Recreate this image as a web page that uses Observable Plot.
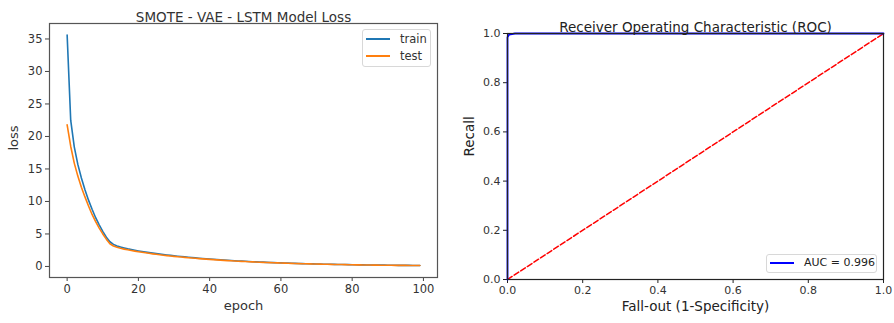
<!DOCTYPE html>
<html>
<head>
<meta charset="utf-8">
<script src="https://cdn.jsdelivr.net/npm/d3@7"></script>
<script src="https://cdn.jsdelivr.net/npm/@observablehq/plot@0.6"></script>
<style>
  html, body { margin: 0; padding: 0; background: #fff; }
  #wrap { position: relative; width: 894px; height: 323px; font-family: "DejaVu Sans", sans-serif; color: #333; }
  .panel { position: absolute; top: 0; }
  .legend { position: absolute; background: #fff; border: 1px solid #d8d8d8; border-radius: 3px; box-sizing: border-box; }
  .litem { position: absolute; display: flex; align-items: center; font-size: 11.5px; }
  .lline { display: inline-block; width: 24px; height: 2px; margin-right: 10px; }
</style>
</head>
<body>
<div id="wrap"></div>
<script>
const trainLoss = [35.6, 22.5, 18.4, 15.7, 13.6, 11.8, 10.2, 8.8, 7.5, 6.4, 5.4, 4.5, 3.8, 3.4, 3.15, 2.98, 2.84, 2.71, 2.6, 2.49, 2.39, 2.3, 2.21, 2.13, 2.05, 1.97, 1.9, 1.83, 1.76, 1.7, 1.64, 1.58, 1.52, 1.47, 1.42, 1.37, 1.32, 1.27, 1.22, 1.18, 1.14, 1.1, 1.06, 1.02, 0.98, 0.95, 0.91, 0.88, 0.85, 0.82, 0.79, 0.76, 0.73, 0.71, 0.68, 0.66, 0.63, 0.61, 0.59, 0.57, 0.55, 0.53, 0.51, 0.49, 0.47, 0.46, 0.44, 0.42, 0.41, 0.39, 0.38, 0.37, 0.35, 0.34, 0.33, 0.32, 0.31, 0.3, 0.29, 0.28, 0.27, 0.26, 0.25, 0.24, 0.23, 0.23, 0.22, 0.21, 0.2, 0.2, 0.19, 0.18, 0.18, 0.17, 0.17, 0.16, 0.16, 0.15, 0.15, 0.14];
const testLoss = [21.8, 18.5, 15.9, 13.9, 12.2, 10.7, 9.3, 8.0, 6.9, 5.9, 5.0, 4.2, 3.5, 3.15, 2.95, 2.8, 2.67, 2.56, 2.46, 2.36, 2.27, 2.18, 2.1, 2.02, 1.94, 1.87, 1.8, 1.73, 1.67, 1.61, 1.55, 1.5, 1.45, 1.4, 1.35, 1.3, 1.25, 1.21, 1.17, 1.13, 1.09, 1.05, 1.01, 0.97, 0.94, 0.9, 0.87, 0.84, 0.81, 0.78, 0.75, 0.73, 0.7, 0.68, 0.65, 0.63, 0.61, 0.59, 0.57, 0.55, 0.53, 0.51, 0.49, 0.47, 0.46, 0.44, 0.42, 0.41, 0.4, 0.38, 0.37, 0.36, 0.34, 0.33, 0.32, 0.31, 0.3, 0.29, 0.28, 0.27, 0.26, 0.25, 0.24, 0.23, 0.22, 0.22, 0.21, 0.2, 0.19, 0.19, 0.18, 0.18, 0.17, 0.17, 0.16, 0.16, 0.15, 0.15, 0.14, 0.14];
const lossXTicks = [0, 20, 40, 60, 80, 100];
const lossYTicks = [0, 5, 10, 15, 20, 25, 30, 35];

const rocFpr = [0, 0, 0.004, 0.02, 1];
const rocTpr = [0, 0.985, 0.995, 1, 1];
const chanceX = [0, 1];
const chanceY = [0, 1];
const rocTicks = [0, 0.2, 0.4, 0.6, 0.8, 1.0];
const aucLabel = "AUC = 0.996";

const epochs = trainLoss.map((_, i) => i);
const lossRows = [
  ...epochs.map(i => ({epoch: i, loss: trainLoss[i], series: "train"})),
  ...epochs.map(i => ({epoch: i, loss: testLoss[i], series: "test"}))
];
const rocRows = rocFpr.map((f, i) => ({fpr: f, tpr: rocTpr[i]}));
const chanceRows = chanceX.map((x, i) => ({x, y: chanceY[i]}));

const FONT = "DejaVu Sans, sans-serif";
const TXT = "#333";
const wrap = document.getElementById("wrap");

const left = Plot.plot({
  width: 450, height: 323,
  marginLeft: 49, marginRight: 13, marginTop: 23, marginBottom: 46,
  style: {fontFamily: FONT, color: TXT, background: "transparent", overflow: "visible"},
  x: {domain: [-4.95, 103.95], ticks: lossXTicks},
  y: {domain: [-1.7, 37.38], ticks: lossYTicks},
  marks: [
    Plot.axisX({ticks: lossXTicks, tickSize: 4, tickPadding: 3, fontSize: 11.5, label: null, stroke: "#444"}),
    Plot.axisY({ticks: lossYTicks, tickSize: 4, tickPadding: 3, fontSize: 11.5, label: null, stroke: "#444"}),
    Plot.line(lossRows.filter(d => d.series === "train"), {x: "epoch", y: "loss", stroke: "#1f77b4", strokeWidth: 1.6}),
    Plot.line(lossRows.filter(d => d.series === "test"), {x: "epoch", y: "loss", stroke: "#ff7f0e", strokeWidth: 1.6}),
    Plot.frame({stroke: "#555", strokeWidth: 1.2}),
    Plot.text(["SMOTE - VAE - LSTM Model Loss"], {frameAnchor: "top", dy: -11, fontSize: 13.5, fill: TXT}),
    Plot.text(["epoch"], {frameAnchor: "bottom", dy: 32, fontSize: 13, fill: TXT}),
    Plot.text(["loss"], {frameAnchor: "left", dx: -36, rotate: -90, fontSize: 13, fill: TXT})
  ]
});
left.classList.add("panel");
left.style.left = "0px";
wrap.appendChild(left);

const right = Plot.plot({
  width: 444, height: 323,
  marginLeft: 57, marginRight: 11, marginTop: 33, marginBottom: 44,
  style: {fontFamily: FONT, color: TXT, background: "transparent", overflow: "visible"},
  x: {domain: [0, 1], ticks: rocTicks, tickFormat: d3.format(".1f")},
  y: {domain: [0, 1], ticks: rocTicks, tickFormat: d3.format(".1f")},
  marks: [
    Plot.axisX({ticks: rocTicks, tickFormat: d3.format(".1f"), tickSize: 4, tickPadding: 3, fontSize: 11, label: null, stroke: "#222"}),
    Plot.axisY({ticks: rocTicks, tickFormat: d3.format(".1f"), tickSize: 4, tickPadding: 3, fontSize: 11, label: null, stroke: "#222"}),
    Plot.line(chanceRows, {x: "x", y: "y", stroke: "#ff0000", strokeWidth: 1.5, strokeDasharray: "5.5,2.4", clip: true}),
    Plot.line(rocRows, {x: "fpr", y: "tpr", stroke: "#0000ff", strokeWidth: 1.8}),
    Plot.frame({stroke: "#222", strokeWidth: 1.2}),
    Plot.text(["Receiver Operating Characteristic (ROC)"], {frameAnchor: "top", dy: -11, fontSize: 13.5, fill: "#222"}),
    Plot.text(["Fall-out (1-Specificity)"], {frameAnchor: "bottom", dy: 31, fontSize: 13.5, fill: "#222"}),
    Plot.text(["Recall"], {frameAnchor: "left", dx: -38, rotate: -90, fontSize: 13.5, fill: "#222"})
  ]
});
right.classList.add("panel");
right.style.left = "450px";
wrap.appendChild(right);

function legend(box, items) {
  const lg = document.createElement("div");
  lg.className = "legend";
  Object.assign(lg.style, {left: box.x + "px", top: box.y + "px", width: box.w + "px", height: box.h + "px"});
  items.forEach(it => {
    const row = document.createElement("div");
    row.className = "litem";
    row.style.left = it.x + "px";
    row.style.top = it.y + "px";
    row.style.fontSize = it.fs + "px";
    row.style.color = it.color;
    const ln = document.createElement("span");
    ln.className = "lline";
    ln.style.background = it.stroke;
    const tx = document.createElement("span");
    tx.textContent = it.label;
    row.appendChild(ln);
    row.appendChild(tx);
    lg.appendChild(row);
  });
  wrap.appendChild(lg);
}
legend({x: 362, y: 29, w: 69, h: 38}, [
  {label: "train", stroke: "#1f77b4", x: 3, y: 2, fs: 11.5, color: TXT},
  {label: "test", stroke: "#ff7f0e", x: 3, y: 19, fs: 11.5, color: TXT}
]);
legend({x: 766, y: 254, w: 111, h: 19}, [
  {label: aucLabel, stroke: "#0000ff", x: 3, y: 1, fs: 11, color: "#222"}
]);
</script>
</body>
</html>
